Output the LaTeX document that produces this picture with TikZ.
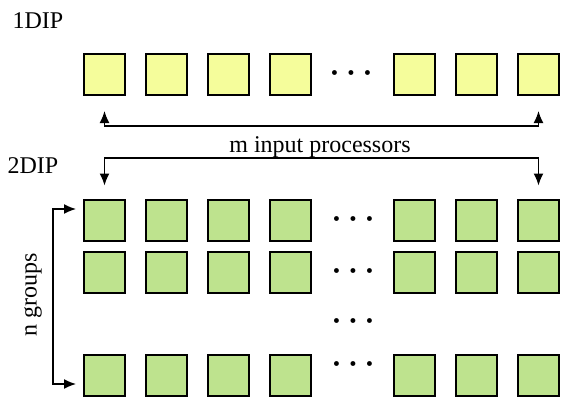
\documentclass[tikz,border=0pt]{standalone}
\usepackage{fontspec}
\setmainfont{Liberation Serif}
\usepackage{amsmath}
\usetikzlibrary{arrows.meta}
\definecolor{procyellow}{RGB}{245,253,155}
\definecolor{procgreen}{RGB}{190,227,142}

\begin{document}
\begin{tikzpicture}[x=0.5pt,y=-0.5pt]
\tikzset{proc/.style = {shape=rectangle,draw,line width=1pt,inner sep=0pt,minimum size=20.5pt}}
\tikzset{edge/.style = {<->,> = {Latex[length=6pt,width=5pt]},line width=0.75pt}}
\tikzset{lbl/.style = {font=\fontsize{12}{14}\selectfont,inner sep=0pt}}
\tikzset{dots/.style = {inner sep=0pt,font=\fontsize{9}{10}\selectfont}}
\newcommand{\procdots}{$\scriptscriptstyle\bullet\hspace{4.6pt}\bullet\hspace{4.6pt}\bullet$}
\useasboundingbox (0,0) rectangle (564,398);
% labels
\node[lbl] (l1) at (38,21) {1DIP};
\node[lbl] (l2) at (33,166) {2DIP};
\node[lbl,anchor=base] (lm) at (320,152) {m input processors};
\node[lbl,rotate=90] (ln) at (33,295) {n groups};
% processors
\foreach \c/\x in {1/104.5,2/166.5,3/228.5,4/290.5,6/414.5,7/476.5,8/538.5}
{
  \node[proc,fill=procyellow] (t\c) at (\x,74.5) {};
  \foreach \r/\y in {1/220,2/272,4/375}
    \node[proc,fill=procgreen] (g\r-\c) at (\x,\y) {};
}
% dots
\node[dots] (dt) at (351,73) {\procdots};
\node[dots] (d1) at (353,219) {\procdots};
\node[dots] (d2) at (353,271) {\procdots};
\node[dots] (d3) at (353,321) {\procdots};
\node[dots] (d4) at (353,364) {\procdots};
% arrows
\coordinate (ma) at (320,126);
\coordinate (mb) at (320,158);
\coordinate (ng) at (53,295);
\draw[edge] ([yshift=-7.5pt]t1.south) |- (ma) -| ([yshift=-7.5pt]t8.south);
\draw[edge] ([yshift=6.5pt]g1-1.north) |- (mb) -| ([yshift=6.5pt]g1-8.north);
\draw[edge] ([xshift=-3.5pt,yshift=5.5pt]g1-1.west) -| (ng) |- ([xshift=-3.5pt,yshift=-4.5pt]g4-1.west);
\end{tikzpicture}
\end{document}
